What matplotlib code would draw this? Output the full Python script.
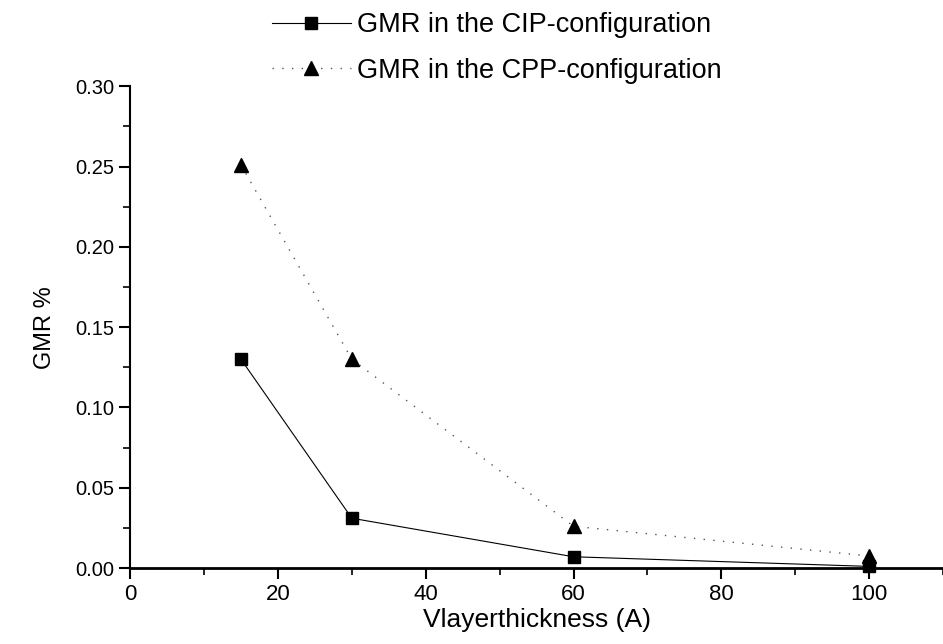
import matplotlib
matplotlib.use("Agg")
import matplotlib.pyplot as plt
from matplotlib.ticker import MultipleLocator, FormatStrFormatter

plt.rcParams['font.family'] = ['Liberation Sans', 'DejaVu Sans']

thickness = [15, 30, 60, 100]
gmr_cip = [0.13, 0.031, 0.007, 0.001]
gmr_cpp = [0.251, 0.130, 0.026, 0.0075]
label_cip = "GMR in the CIP-configuration"
label_cpp = "GMR in the CPP-configuration"

fig = plt.figure(figsize=(9.43, 6.44), dpi=100)
ax = fig.add_axes([0.138, 0.118, 0.862, 0.748])

ax.plot(thickness, gmr_cip, color='black', lw=0.8, marker='s', ms=8.5,
        label=label_cip, clip_on=False)
ax.plot(thickness, gmr_cpp, color='#555555', lw=1.0, ls=(0, (1, 6)), marker='^',
        ms=10, markerfacecolor='black', markeredgecolor='black',
        label=label_cpp, clip_on=False)

ax.set_xlim(0, 110)
ax.set_ylim(0, 0.30)
ax.spines['top'].set_visible(False)
ax.spines['right'].set_visible(False)
ax.spines['bottom'].set_linewidth(2.0)
ax.spines['left'].set_linewidth(1.5)

ax.xaxis.set_major_locator(MultipleLocator(20))
ax.xaxis.set_minor_locator(MultipleLocator(10))
ax.yaxis.set_major_locator(MultipleLocator(0.05))
ax.yaxis.set_minor_locator(MultipleLocator(0.025))
ax.yaxis.set_major_formatter(FormatStrFormatter('%.2f'))
ax.xaxis.set_major_formatter(FormatStrFormatter('%d'))
ax.tick_params(which='major', direction='out', length=8, width=1.5)
ax.tick_params(axis='y', which='major', labelsize=14.5)
ax.tick_params(axis='x', which='major', labelsize=16)
ax.tick_params(which='minor', direction='out', length=5, width=1.2)

ax.set_xlabel("Vlayerthickness (A)", fontsize=19, labelpad=2)
ax.set_ylabel("GMR %", fontsize=17, labelpad=14)

fig.legend(loc='upper left', bbox_to_anchor=(272 / 943, 1 - 12 / 644), frameon=False,
           fontsize=19.5, handlelength=2.9, handletextpad=0.25, labelspacing=0.72,
           borderpad=0, borderaxespad=0)

fig.savefig("out.png", dpi=100)
